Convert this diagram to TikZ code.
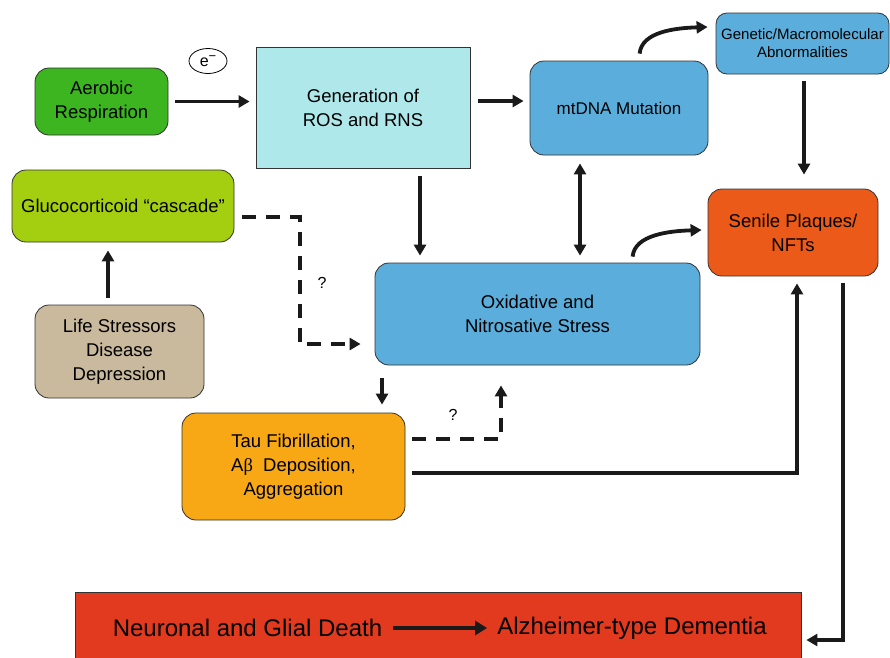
\documentclass[tikz,border=0pt]{standalone}
\usepackage{fontspec}
\setmainfont{Liberation Sans}
\newfontfamily\grk{Liberation Serif}
\usetikzlibrary{arrows.meta,calc,shapes.geometric}

\definecolor{cAer}{RGB}{60,181,33}
\definecolor{cRos}{RGB}{174,232,234}
\definecolor{cBlue}{RGB}{91,174,219}
\definecolor{cSen}{RGB}{236,90,26}
\definecolor{cGlu}{RGB}{164,207,16}
\definecolor{cTan}{RGB}{201,185,157}
\definecolor{cTau}{RGB}{247,168,20}
\definecolor{cBot}{RGB}{226,58,30}
\definecolor{cInk}{RGB}{26,26,26}

\tikzset{
  box/.style={draw=black!80, line width=0.8pt, rounded corners=14pt, align=center,
              inner sep=0pt, font=\fontsize{18.5}{24}\selectfont},
  tip/.tip={Triangle[length=11pt,width=12pt]},
  conn/.style={draw=cInk, line width=3.8pt, -tip},
  dconn/.style={conn, dash pattern=on 14pt off 10pt},
  biconn/.style={draw=cInk, line width=3.8pt, tip-tip},
  qmark/.style={font=\fontsize{16}{16}\selectfont, inner sep=0pt}
}

\begin{document}
\begin{tikzpicture}[x=1pt,y=-1pt]
\clip (0,0) rectangle (890,657);
\fill[white] (0,0) rectangle (890,657);

% boxes
\node[box, fill=cAer, minimum width=133pt, minimum height=67pt] (aer) at (101.5,101.5) {Aerobic\\Respiration};
\node[draw=black, line width=0.8pt, ellipse, minimum width=38pt, minimum height=25pt, inner sep=0pt,
      font=\fontsize{16}{16}\selectfont] (el) at (208,61) {e\raisebox{0.35em}{\fontsize{13}{13}\selectfont −}};
\node[box, rounded corners=0pt, fill=cRos, minimum width=214pt, minimum height=121pt] (ros) at (363,107.5) {Generation of\\ROS and RNS};
\node[box, fill=cBlue, minimum width=178pt, minimum height=94pt, font=\fontsize{17}{24}\selectfont] (mt) at (619,108) {mtDNA Mutation};
\node[box, fill=cBlue, rounded corners=11pt, minimum width=173pt, minimum height=61pt, font=\fontsize{15}{18}\selectfont] (gen) at (802.5,43.5) {Genetic/Macromolecular\\Abnormalities};
\node[box, fill=cSen, minimum width=170pt, minimum height=87pt] (sen) at (793,232.5) {Senile Plaques/\\NFTs};
\node[box, fill=cGlu, minimum width=222pt, minimum height=72pt] (glu) at (123,206) {Glucocorticoid “cascade”};
\node[box, fill=cTan, minimum width=169pt, minimum height=93pt] (life) at (119.5,351.5) {Life Stressors\\Disease\\Depression};
\node[box, fill=cBlue, minimum width=325pt, minimum height=102pt] (ox) at (537.5,314) {Oxidative and\\Nitrosative Stress};
\node[box, fill=cTau, minimum width=223pt, minimum height=107pt] (tau) at (293.5,466.5) {Tau Fibrillation,\\A{\grk β}\ \ Deposition,\\Aggregation\hspace*{0pt}};
\node[draw=black!80, line width=0.8pt, fill=cBot, minimum width=726pt, minimum height=72pt, inner sep=0pt] (bot) at (438,628) {};
\node[inner sep=0pt, font=\fontsize{24}{24}\selectfont] (nd) at (247.5,628) {Neuronal and Glial Death};
\node[inner sep=0pt, font=\fontsize{24}{24}\selectfont] (ad) at (632,628) {Alzheimer-type Dementia};

% question marks
\node[qmark] (q1) at (322,283) {?};
\node[qmark] (q2) at (453,415) {?};

% connectors
\draw[conn] ($(aer.east)+(7,0)$) -- ($(ros.west |- aer.east)+(-6,0)$);
\draw[conn] ($(ros.east)+(8,-6.5)$) -- ($(mt.west)+(-6,-7)$);
\draw[conn] ($(mt.north west)+(110,-7)$) .. controls +(2,-22) and +(-32,1) .. ($(gen.west)+(-8,-16.5)$);
\draw[conn] ($(gen.south)+(1.5,7)$) -- ($(sen.north)+(11,-14)$);
\draw[dconn] ($(glu.east)+(8,11)$) -| ($(ox.west)+(-75,30)$) -- ($(ox.west)+(-14,30)$);
\draw[conn] ($(life.north)+(-11.5,-7)$) -- ($(glu.south)+(-15,8)$);
\draw[conn] ($(ros.south)+(57,8)$) -- ($(ox.north)+(-117.5,-7)$);
\draw[biconn] ($(mt.south)+(-39,8)$) -- ($(ox.north)+(42.5,-7)$);
\draw[conn] ($(ox.north west)+(258,-6)$) .. controls +(2,-22) and +(-32,1) .. ($(sen.west)+(-6,-2.5)$);
\draw[conn] ($(ox.south)+(-155.5,13)$) -- ($(tau.north)+(88.5,-8)$);
\draw[dconn] ($(tau.east)+(7,-27.5)$) -| ($(ox.south)+(-36.5,20)$);
\draw[conn] ($(tau.east)+(7,6.5)$) -| ($(sen.south)+(4,7)$);
\draw[conn] ($(sen.south)+(50,7)$) |- ($(bot.east)+(5,12)$);
\draw[draw=cInk, line width=4.5pt, -{Triangle[length=12pt,width=14pt]}, shorten <=11pt, shorten >=10pt] (nd.east) -- (ad.west);
\end{tikzpicture}
\end{document}
